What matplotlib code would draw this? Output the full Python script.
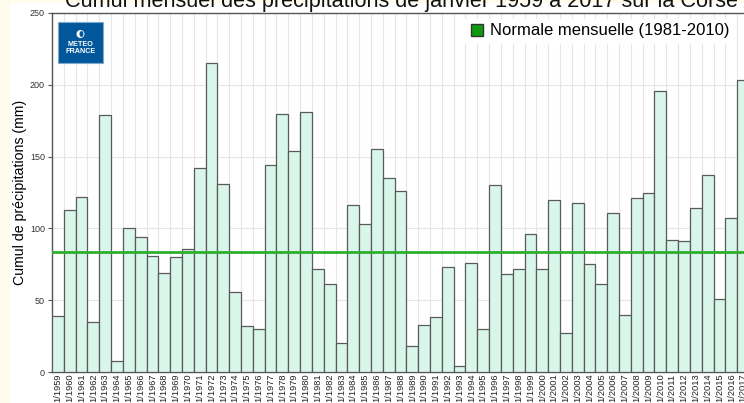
import numpy as np
import matplotlib
matplotlib.use("Agg")
import matplotlib.pyplot as plt
from matplotlib.patches import Rectangle, Ellipse
from matplotlib.lines import Line2D

plt.rcParams['font.family'] = ['Liberation Sans', 'DejaVu Sans']

years = list(range(1959, 2018))
labels = ["1/%d" % y for y in years]
cumul = [39, 113, 122, 35, 179, 8, 100, 94, 81, 69,
         80, 86, 142, 215, 131, 56, 32, 30, 144, 180,
         154, 181, 72, 61, 20, 116, 103, 155, 135, 126,
         18, 33, 38, 73, 4, 76, 30, 130, 68, 72,
         96, 72, 120, 27, 118, 75, 61, 111, 40, 121,
         125, 196, 92, 91, 114, 137, 51, 107, 203]
normale = 83.5

W, H = 744, 403
fig = plt.figure(figsize=(W / 100, H / 100), dpi=100)
fig.patch.set_facecolor('#FFFCEB')
# white chart panel
fig.patches.append(Rectangle((10 / W, 0), 1, 1 - 3 / H, transform=fig.transFigure,
                             facecolor='white', edgecolor='none', zorder=-10))

ax = fig.add_axes([52 / W, 31 / H, 697 / W, 359 / H])
ax.set_facecolor('none')
x = np.arange(len(years))
ax.bar(x, cumul, width=1.0, color='#D9F6EA', edgecolor='#5A5A5A', linewidth=0.9, zorder=3)
ax.axhline(normale, color='#2EAF2E', linewidth=2, zorder=4)

ax.set_xlim(-0.5, len(years) - 0.5)
ax.set_ylim(0, 250)
ax.set_yticks([0, 50, 100, 150, 200, 250])
ax.set_xticks(x)
ax.set_xticklabels(labels, rotation=90, fontsize=6.7, color='#222222')
ax.tick_params(axis='y', labelsize=6.5, length=3, color='#555555', labelcolor='#333333', pad=2)
ax.tick_params(axis='x', length=0, pad=1.0)
ax.set_xticks(np.arange(-0.5, len(years)), minor=True)
ax.grid(True, which='minor', axis='x', color='#E6E6E6', linewidth=0.8, zorder=0)
ax.grid(True, which='major', axis='y', color='#E6E6E6', linewidth=0.8, zorder=0)
ax.tick_params(axis='x', which='minor', length=0)
for s in ['left', 'top', 'bottom']:
    ax.spines[s].set_color('#555555')
    ax.spines[s].set_linewidth(1)
ax.spines['right'].set_visible(False)
ax.set_ylabel('Cumul de précipitations (mm)', fontsize=10.2, labelpad=2.5)

fig.text(65 / W, 1 - 7 / H, "Cumul mensuel des précipitations de janvier 1959 à 2017 sur la Corse",
         fontsize=15.6, ha='left', va='baseline', color='#111111')

# legend
handle = Line2D([], [], marker='s', linestyle='none', markersize=8,
                markerfacecolor='#0F9A0F', markeredgecolor='#333333')
leg = fig.legend([handle], ['Normale mensuelle (1981-2010)'], loc='center right',
                 bbox_to_anchor=(743 / W, 1 - 31 / H), fontsize=12, frameon=True,
                 handletextpad=0.3, borderpad=0.3, handlelength=1.0)
leg.get_frame().set_facecolor('white')
leg.get_frame().set_edgecolor('none')
leg.get_frame().set_alpha(1)

# Meteo France logo
logo = Rectangle((58 / W, 1 - 63 / H), 45 / W, 41 / H, transform=fig.transFigure,
                 facecolor='#02579A', edgecolor='#7FA9CF', linewidth=0.8, zorder=5)
fig.patches.append(logo)
fig.patches.append(Ellipse((80.5 / W, 1 - 34 / H), 8 / W, 8 / H, transform=fig.transFigure,
                           facecolor='white', edgecolor='none', zorder=6))
fig.patches.append(Ellipse((81.5 / W, 1 - 34 / H), 4 / W, 6 / H, transform=fig.transFigure,
                           facecolor='#02579A', edgecolor='none', zorder=7))
fig.text(80.5 / W, 1 - 48 / H, "METEO\nFRANCE", fontsize=5.2, fontweight='bold',
         color='white', ha='center', va='center', linespacing=1.05, zorder=7)

fig.savefig('out.png', dpi=100, facecolor=fig.get_facecolor())
